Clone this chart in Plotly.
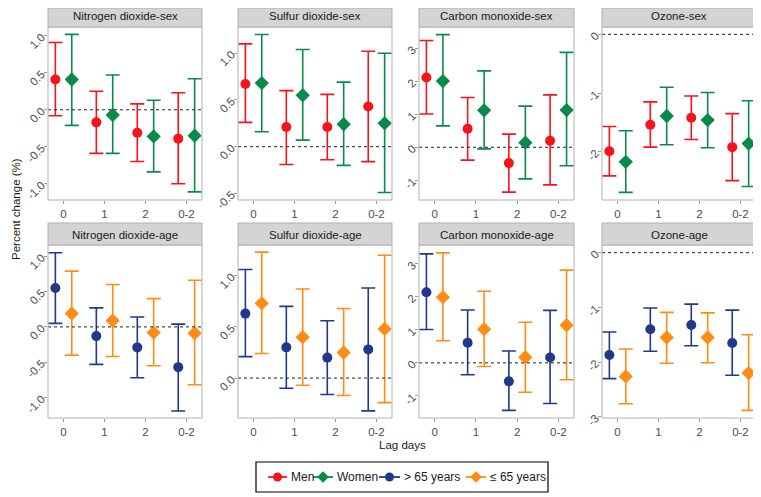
import plotly.graph_objects as go

# page body has an 8px margin, so the figure is drawn 8px in from the corner
OFF = 8
W, H = 761 - OFF, 497 - OFF

lags = ["0", "1", "2", "0-2"]

# estimate / lower / upper, first row = Men (or > 65), second row = Women (or <= 65)
no2_sex_est = [[0.41, -0.17, -0.31, -0.39], [0.41, -0.07, -0.36, -0.35]]
no2_sex_lo = [[-0.08, -0.59, -0.70, -1.00], [-0.21, -0.59, -0.84, -1.11]]
no2_sex_hi = [[0.91, 0.25, 0.08, 0.23], [1.02, 0.47, 0.13, 0.42]]

so2_sex_est = [[0.67, 0.21, 0.21, 0.43], [0.68, 0.55, 0.24, 0.25]]
so2_sex_lo = [[0.26, -0.19, -0.14, -0.16], [0.16, 0.07, -0.20, -0.49]]
so2_sex_hi = [[1.10, 0.60, 0.56, 1.02], [1.20, 1.04, 0.69, 1.00]]

co_sex_est = [[2.12, 0.56, -0.48, 0.20], [2.01, 1.12, 0.14, 1.13]]
co_sex_lo = [[1.01, -0.39, -1.36, -1.14], [0.65, -0.05, -0.96, -0.56]]
co_sex_hi = [[3.24, 1.51, 0.40, 1.59], [3.42, 2.32, 1.25, 2.88]]

o3_sex_est = [[-1.99, -1.54, -1.42, -1.92], [-2.17, -1.39, -1.46, -1.86]]
o3_sex_lo = [[-2.41, -1.92, -1.79, -2.49], [-2.69, -1.88, -1.93, -2.59]]
o3_sex_hi = [[-1.57, -1.15, -1.05, -1.35], [-1.64, -0.90, -0.99, -1.13]]

no2_age_est = [[0.55, -0.13, -0.29, -0.57], [0.19, 0.09, -0.08, -0.09]]
no2_age_lo = [[0.05, -0.53, -0.72, -1.19], [-0.40, -0.42, -0.55, -0.82]]
no2_age_hi = [[1.05, 0.27, 0.14, 0.04], [0.79, 0.60, 0.40, 0.66]]

so2_age_est = [[0.63, 0.30, 0.20, 0.28], [0.73, 0.40, 0.25, 0.48]]
so2_age_lo = [[0.21, -0.10, -0.16, -0.32], [0.24, -0.07, -0.17, -0.24]]
so2_age_hi = [[1.06, 0.70, 0.56, 0.88], [1.23, 0.87, 0.68, 1.20]]

co_age_est = [[2.14, 0.61, -0.56, 0.16], [1.99, 1.02, 0.17, 1.14]]
co_age_lo = [[1.01, -0.36, -1.44, -1.23], [0.67, -0.11, -0.89, -0.51]]
co_age_hi = [[3.30, 1.60, 0.36, 1.59], [3.33, 2.17, 1.23, 2.81]]

o3_age_est = [[-1.87, -1.40, -1.32, -1.65], [-2.26, -1.55, -1.55, -2.20]]
o3_age_lo = [[-2.30, -1.80, -1.70, -2.24], [-2.76, -2.02, -2.01, -2.88]]
o3_age_hi = [[-1.45, -1.01, -0.94, -1.05], [-1.76, -1.09, -1.10, -1.50]]

sex_groups = ["Men", "Women"]
age_groups = ["> 65 years", "\u2264 65 years"]
colors = {"Men": "#F5141C", "Women": "#0A8A4A", "> 65 years": "#22388A", "\u2264 65 years": "#FF8C14"}
symbols = {"Men": "circle", "Women": "diamond", "> 65 years": "circle", "\u2264 65 years": "diamond"}

panels = [
    ("Nitrogen dioxide-sex", sex_groups, no2_sex_est, no2_sex_lo, no2_sex_hi, [-1.22, 1.12], [-1.0, -0.5, 0.0, 0.5, 1.0], "%.1f"),
    ("Sulfur dioxide-sex", sex_groups, so2_sex_est, so2_sex_lo, so2_sex_hi, [-0.57, 1.28], [-0.5, 0.0, 0.5, 1.0], "%.1f"),
    ("Carbon monoxide-sex", sex_groups, co_sex_est, co_sex_lo, co_sex_hi, [-1.6, 3.65], [-1, 0, 1, 2, 3], "%d"),
    ("Ozone-sex", sex_groups, o3_sex_est, o3_sex_lo, o3_sex_hi, [-2.82, 0.125], [-2, -1, 0], "%d"),
    ("Nitrogen dioxide-age", age_groups, no2_age_est, no2_age_lo, no2_age_hi, [-1.29, 1.16], [-1.0, -0.5, 0.0, 0.5, 1.0], "%.1f"),
    ("Sulfur dioxide-age", age_groups, so2_age_est, so2_age_lo, so2_age_hi, [-0.39, 1.30], [0.0, 0.5, 1.0], "%.1f"),
    ("Carbon monoxide-age", age_groups, co_age_est, co_age_lo, co_age_hi, [-1.67, 3.57], [-1, 0, 1, 2, 3], "%d"),
    ("Ozone-age", age_groups, o3_age_est, o3_age_lo, o3_age_hi, [-3.02, 0.14], [-3, -2, -1, 0], "%d"),
]

# panel boxes in screen pixels
cols_px = [(48, 202), (238, 392), (419, 574), (602, 756)]
rows_px = [(27, 200, 4), (245, 418, 223)]  # plot top, plot bottom, strip top


def px(x):
    return (x - OFF) / W


def py(y):
    return 1 - (y - OFF) / H


FONT = "Arial, Liberation Sans, sans-serif"
dodge = 0.2

fig = go.Figure()
layout = {}
shapes = []
annotations = []

for i, (title, groups, est, lo, hi, yr, yt, fmt) in enumerate(panels):
    n = i + 1
    r, c = divmod(i, 4)
    x0, x1 = cols_px[c]
    top, bot, stop = rows_px[r]
    sx = "" if n == 1 else str(n)
    xdom = [px(x0), px(x1)]
    ydom = [py(bot), py(top)]
    layout["xaxis" + sx] = dict(
        domain=xdom, anchor="y" + sx, range=[-0.38, 3.38], automargin=False,
        tickvals=[0, 1, 2, 3], ticktext=lags, showgrid=False, zeroline=False,
        showline=False, ticks="outside", ticklen=3, tickcolor="#999999",
        tickfont=dict(family=FONT, size=11.5, color="#4D4D4D"), fixedrange=True,
    )
    layout["yaxis" + sx] = dict(
        domain=ydom, anchor="x" + sx, range=yr, automargin=False,
        tickvals=yt, ticktext=[fmt % v for v in yt], tickangle=-45,
        showgrid=False, zeroline=False, showline=False, ticks="outside",
        ticklen=3, tickcolor="#999999",
        tickfont=dict(family=FONT, size=11.5, color="#4D4D4D"), fixedrange=True,
    )
    # dashed reference line at 0
    shapes.append(dict(type="line", xref="x" + sx + " domain", yref="y" + sx,
                       x0=0, x1=1, y0=0, y1=0, line=dict(color="#222222", width=1, dash="3px,3px")))
    # panel border
    shapes.append(dict(type="rect", xref="paper", yref="paper",
                       x0=xdom[0], x1=xdom[1], y0=ydom[0], y1=ydom[1],
                       line=dict(color="#B0B0B0", width=1)))
    # strip
    shapes.append(dict(type="rect", xref="paper", yref="paper",
                       x0=xdom[0], x1=xdom[1], y0=py(top), y1=min(py(stop), 1.0),
                       fillcolor="#D4D4D4", line=dict(color="#B0B0B0", width=1)))
    annotations.append(dict(text=title, xref="paper", yref="paper",
                            x=(xdom[0] + xdom[1]) / 2, y=py((top + stop) / 2 + 1),
                            showarrow=False, xanchor="center", yanchor="middle",
                            font=dict(family=FONT, size=11.5, color="#1A1A1A")))
    for g, grp in enumerate(groups):
        off = -dodge if g == 0 else dodge
        xs = [k + off for k in range(len(lags))]
        fig.add_trace(go.Scatter(
            x=xs, y=est[g], mode="markers", xaxis="x" + sx, yaxis="y" + sx,
            marker=dict(color=colors[grp], symbol=symbols[grp], size=10 if g == 0 else 11),
            error_y=dict(type="data", symmetric=False,
                         array=[h - e for h, e in zip(hi[g], est[g])],
                         arrayminus=[e - l for e, l in zip(est[g], lo[g])],
                         color=colors[grp], thickness=1.6, width=7),
            showlegend=False, hoverinfo="skip",
        ))

# hand-built legend: key lines, markers on a hidden pixel axis, labels
legend_keys = [("Men", 268, 287), ("Women", 313, 333), ("> 65 years", 379, 400), ("\u2264 65 years", 466, 486)]
leg_y = 477
shapes.append(dict(type="rect", xref="paper", yref="paper",
                   x0=px(256), x1=px(548), y0=py(492), y1=py(462),
                   line=dict(color="#000000", width=1.2)))
for name, lx0, lx1 in legend_keys:
    shapes.append(dict(type="line", xref="paper", yref="paper",
                       x0=px(lx0), x1=px(lx1), y0=py(leg_y), y1=py(leg_y),
                       line=dict(color=colors[name], width=1.8)))
    annotations.append(dict(text=name, xref="paper", yref="paper",
                            x=px(lx1 + 2), y=py(leg_y), xanchor="left", yanchor="middle",
                            showarrow=False, font=dict(family=FONT, size=12, color="#1A1A1A")))
    fig.add_trace(go.Scatter(
        x=[(lx0 + lx1) / 2 - OFF], y=[leg_y - OFF], mode="markers", xaxis="x9", yaxis="y9",
        marker=dict(color=colors[name], symbol=symbols[name], size=9),
        showlegend=False, hoverinfo="skip",
    ))
layout["xaxis9"] = dict(domain=[0, 1], range=[0, W], visible=False, fixedrange=True, anchor="y9")
layout["yaxis9"] = dict(domain=[0, 1], range=[H, 0], visible=False, fixedrange=True, anchor="x9")

annotations.append(dict(text="Percent change (%)", xref="paper", yref="paper",
                        x=px(16), y=py(209), xanchor="center", yanchor="middle",
                        textangle=-90, showarrow=False,
                        font=dict(family=FONT, size=11.5, color="#1A1A1A")))
annotations.append(dict(text="Lag days", xref="paper", yref="paper",
                        x=px(402), y=py(445), xanchor="center", yanchor="middle",
                        showarrow=False,
                        font=dict(family=FONT, size=11.5, color="#1A1A1A")))

fig.update_layout(
    **layout,
    width=W, height=H,
    margin=dict(l=0, r=0, t=0, b=0),
    paper_bgcolor="white", plot_bgcolor="rgba(0,0,0,0)",
    shapes=shapes, annotations=annotations,
    showlegend=False,
)

fig.write_html("out.html")
